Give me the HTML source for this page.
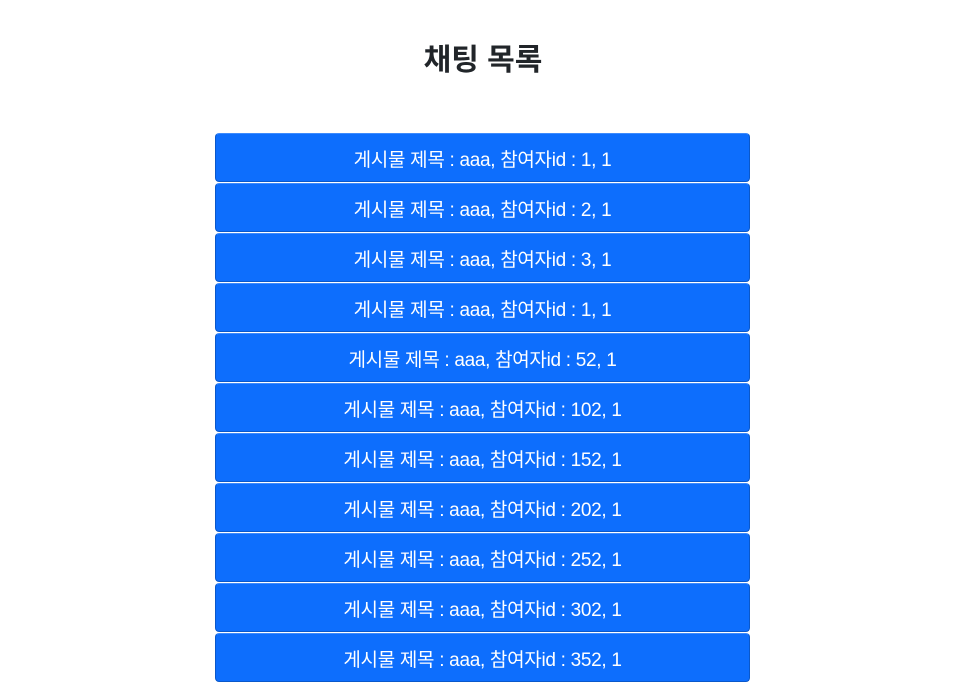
<!DOCTYPE html>
<html><head><meta charset="utf-8"><style>
body{margin:0;background:#fff;font-family:"Liberation Sans","Noto Sans CJK KR",sans-serif;width:956px;height:682px;overflow:hidden}
h1{margin:0;position:absolute;top:41px;left:0;width:966px;text-align:center;font-size:30px;font-weight:bold;color:#212529;line-height:40px}
ul{list-style:none;margin:0;padding:0;position:absolute;top:133px;left:215px;width:535px}
li{margin-bottom:1px;background:#0d6efd;border:1px solid #0a58ca;border-top-color:#3d8bfd;border-radius:4px;box-sizing:border-box;height:49px;color:#fff;font-size:19px;text-align:center;line-height:48px;padding-top:3px;letter-spacing:-0.3px}
</style></head><body>
<h1>채팅 목록</h1>
<ul id="list"></ul>
<script>
const ids=["1, 1","2, 1","3, 1","1, 1","52, 1","102, 1","152, 1","202, 1","252, 1","302, 1","352, 1"];
const list=document.getElementById('list');
ids.forEach(v=>{const li=document.createElement('li');


li.textContent='게시물 제목 : aaa, 참여자id : '+v;list.appendChild(li);});
</script>
</body></html>
